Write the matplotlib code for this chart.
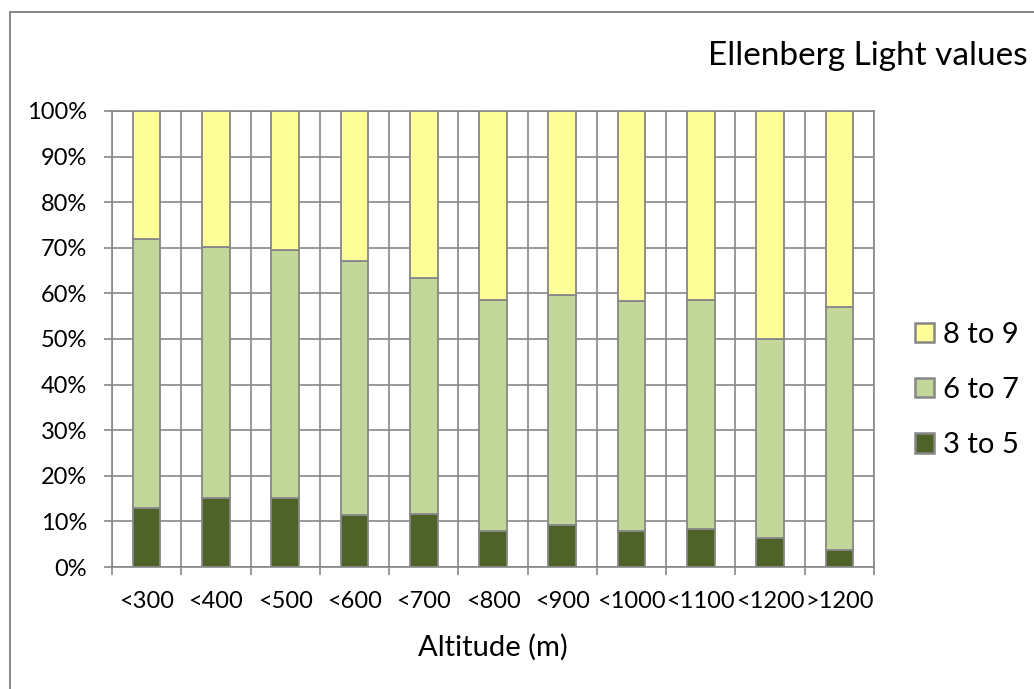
import numpy as np
import matplotlib.pyplot as plt
from matplotlib.patches import Rectangle

plt.rcParams['font.family'] = ['Lato', 'DejaVu Sans']

# altitude classes and share (%) of each Ellenberg light group
altitudes = ['<300', '<400', '<500', '<600', '<700', '<800', '<900',
             '<1000', '<1100', '<1200', '>1200']
light_3_5 = [12.9, 15.1, 15.1, 11.5, 11.6, 8.0, 9.3, 8.0, 8.4, 6.4, 3.7]
light_6_7 = [59.0, 55.0, 54.4, 55.5, 51.8, 50.6, 50.3, 50.3, 50.2, 43.6, 53.4]
light_8_9 = [28.1, 29.9, 30.5, 33.0, 36.6, 41.4, 40.4, 41.7, 41.4, 50.0, 42.9]

GRID = '#878787'
fig = plt.figure(figsize=(10.34, 6.89), dpi=100)
ax = fig.add_axes([112/1034, 1 - 567/689, (874 - 112)/1034, (567 - 111)/689])

x = np.arange(len(altitudes))
b1 = np.array(light_3_5)
b2 = b1 + np.array(light_6_7)
bar_kw = dict(width=0.4, edgecolor=GRID, linewidth=1.3, zorder=3)
h1 = ax.bar(x, light_3_5, color='#4F6228', label='3 to 5', **bar_kw)
h2 = ax.bar(x, light_6_7, bottom=b1, color='#C4D79B', label='6 to 7', **bar_kw)
h3 = ax.bar(x, light_8_9, bottom=b2, color='#FFFF99', label='8 to 9', **bar_kw)

ax.set_xlim(-0.5, len(altitudes) - 0.5)
ax.set_ylim(0, 100)
ax.set_yticks(np.arange(0, 101, 10))
ax.set_yticklabels([f'{v}%' for v in range(0, 101, 10)], fontsize=17)
ax.set_xticks(np.arange(-0.5, len(altitudes)), minor=False)
ax.set_xticklabels([])
ax.set_xticks(x, minor=True)
ax.set_xticklabels(altitudes, minor=True, fontsize=17)
ax.tick_params(axis='both', which='major', length=6, width=1.2, color=GRID)
ax.tick_params(axis='x', which='minor', length=0, pad=17)
ax.tick_params(axis='y', pad=12)
ax.grid(True, which='major', color=GRID, linewidth=1.2, zorder=0)
ax.set_axisbelow(True)
for s in ax.spines.values():
    s.set_color(GRID)
    s.set_linewidth(1.2)

ax.set_xlabel('Altitude (m)', fontsize=21, labelpad=16)

fig.text(708/1034, 1 - 56/689, 'Ellenberg Light values', fontsize=24,
         ha='left', va='center')

leg = fig.legend([h3, h2, h1], ['8 to 9', '6 to 7', '3 to 5'], loc='center left',
                 bbox_to_anchor=(915/1034, 1 - 390/689), frameon=False, fontsize=21,
                 borderpad=0, borderaxespad=0,
                 handlelength=0.65, handleheight=0.65, handletextpad=0.3,
                 labelspacing=1.0)
for p in leg.get_patches():
    p.set_linewidth(1.8)

# chart frame
fig.patches.append(Rectangle((10/1034, -0.1), 1.2, 1 - 12/689 + 0.1,
                             transform=fig.transFigure, fill=False,
                             edgecolor=GRID, linewidth=1.4))

fig.savefig('out.png', dpi=100)
